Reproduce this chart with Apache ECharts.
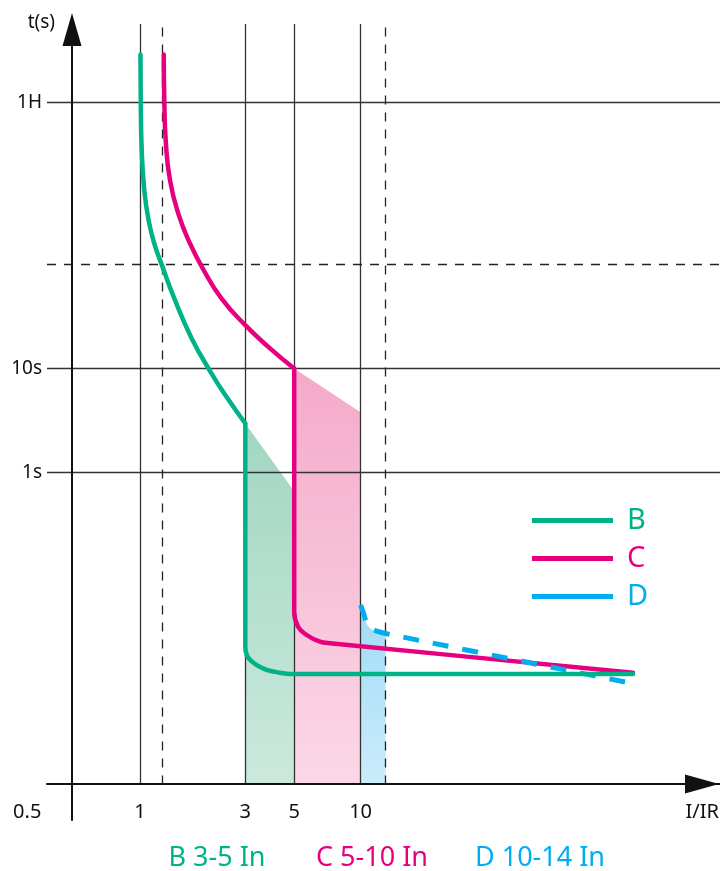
<!DOCTYPE html>
<html>
<head>
<meta charset="utf-8">
<script src="https://cdn.jsdelivr.net/npm/echarts@6/dist/echarts.min.js"></script>
<style>
html,body{margin:0;padding:0;background:#ffffff;}
#chart{width:720px;height:871px;}
</style>
</head>
<body>
<div id="chart"></div>
<script>
// ---- data (current multiple I/IR, time in seconds) ----
const xTicks = [0.5, 1, 3, 5, 10];
const xTickLabels = ['0.5', '1', '3', '5', '10'];
const yTicks = [1, 10, 3600];
const yTickLabels = ['1s', '10s', '1H'];
const xSolidLines = [1, 3, 5, 10];
const xDashedLines = [1.26, 13];
const ySolidLines = [1, 10, 3600];
const yDashedLines = [100];

const curveBThermal = [[1.004, 10470], [1.007, 3680], [1.0175, 1240], [1.045, 518], [1.092, 269], [1.163, 156], [1.256, 98.7], [1.431, 47], [1.71, 19.7], [2.096, 9.15], [2.478, 5.26], [3, 2.96]];
const curveBMagnetic = [[3, 2.96], [3, 0.021], [3.06, 0.0172], [3.23, 0.0151], [3.45, 0.0137], [3.78, 0.0126], [4.3, 0.0119], [4.8, 0.01154], [172, 0.01154]];
const curveCThermal = [[1.28, 10470], [1.2885, 3680], [1.3075, 1540], [1.367, 644], [1.497, 300], [1.692, 156], [1.931, 90.5], [2.343, 47], [3, 26.1], [3.86, 15.8], [5, 10]];
const curveCMagnetic = [[5, 10], [5, 0.0456], [5.21, 0.0329], [5.69, 0.0274], [6.54, 0.0236], [7.27, 0.0228], [172, 0.0119]];
const curveD = [[10, 0.0532], [10.32, 0.0443], [10.87, 0.0329], [12.07, 0.0295], [13, 0.0283], [167, 0.00946]];

const bandB = [[3, 2.96], [5, 0.66]];
const bandC = [[5, 10], [10, 3.8]];
const bandD = curveD.slice(0, 5);

const seriesNames = ['B', 'C', 'D'];
const rangeLabels = ['B 3-5 In', 'C 5-10 In', 'D 10-14 In'];

// ---- styling ----
const FONT = 'Noto Sans';
const GREEN = '#00b288', MAGENTA = '#e6007e', CYAN = '#00aeef';
const xMin = 0.3783, xMax = 426.6, yMin = 0.000456, yMax = 20540, tBase = 0.001;

function nearestLabel(v, ticks, labels) {
  let best = 0, bd = Infinity;
  ticks.forEach((t, i) => {
    const d = Math.abs(Math.log10(v) - Math.log10(t));
    if (d < bd) { bd = d; best = i; }
  });
  return labels[best];
}
function grad(top, bottom) {
  return { type: 'linear', x: 0, y: 0, x2: 0, y2: 1, colorStops: [{ offset: 0, color: top }, { offset: 1, color: bottom }] };
}
const gridLineSolid = { color: '#333', width: 1.3, type: 'solid' };
const gridLineDashed = { color: '#222', width: 1.3, type: [9, 8] };

const chart = echarts.init(document.getElementById('chart'), null, { renderer: 'canvas' });
const option = {
  animation: false,
  backgroundColor: '#ffffff',
  textStyle: { fontFamily: FONT },
  grid: { left: 47, right: 0, top: 24, bottom: 51, containLabel: false, outerBoundsMode: 'none' },
  title: rangeLabels.map((t, i) => ({
    text: t,
    left: [217, 372, 540][i],
    top: 845,
    textAlign: 'center',
    padding: 0,
    textStyle: { color: [GREEN, MAGENTA, CYAN][i], fontSize: 27, fontWeight: 'normal', fontFamily: FONT }
  })),
  legend: {
    data: seriesNames.map((n, i) => ({ name: n, textStyle: { color: [GREEN, MAGENTA, CYAN][i] } })),
    orient: 'vertical',
    left: 532,
    top: 506,
    padding: 0,
    icon: 'rect',
    itemWidth: 81,
    itemHeight: 5,
    itemGap: 9,
    selectedMode: false,
    itemStyle: { borderWidth: 0 },
    textStyle: { fontSize: 29, fontFamily: FONT, padding: [0, 0, 0, 9] }
  },
  xAxis: {
    type: 'log', logBase: 10, min: xMin, max: xMax, offset: -36, z: 20,
    axisLine: { show: true, onZero: false, lineStyle: { color: '#111', width: 2 }, symbol: ['none', 'triangle'], symbolSize: [19, 34], symbolOffset: [0, -18] },
    axisTick: { show: false }, splitLine: { show: false }, minorTick: { show: false }, minorSplitLine: { show: false },
    axisLabel: {
      customValues: xTicks, margin: 18, color: '#111', fontSize: 20, fontFamily: FONT,
      formatter: function (v) {
        const s = nearestLabel(v, xTicks, xTickLabels);
        return s === '0.5' ? '{o|' + s + '}' : s;
      },
      rich: { o: { padding: [0, 93, 0, 0], fontSize: 20, color: '#111', fontFamily: FONT } }
    },
    name: 'I/IR', nameLocation: 'end', nameGap: 0, nameMoveOverlap: false,
    nameTextStyle: { align: 'right', verticalAlign: 'top', padding: [18, 1, 0, 0], fontSize: 20, color: '#111', fontFamily: FONT }
  },
  yAxis: {
    type: 'log', logBase: 10, min: yMin, max: yMax, offset: -25, z: 20,
    axisLine: { show: true, onZero: false, lineStyle: { color: '#111', width: 2 }, symbol: ['none', 'triangle'], symbolSize: [19, 33], symbolOffset: [0, -5.5] },
    axisTick: { show: false }, splitLine: { show: false }, minorTick: { show: false }, minorSplitLine: { show: false },
    axisLabel: {
      customValues: yTicks, margin: 30, color: '#111', fontSize: 19, fontFamily: FONT,
      formatter: function (v) { return nearestLabel(v, yTicks, yTickLabels); }
    },
    name: 't(s)', nameLocation: 'end', nameGap: 1, nameMoveOverlap: false,
    nameTextStyle: { align: 'right', verticalAlign: 'middle', padding: [0, 17, 0, 0], fontSize: 19, color: '#111', fontFamily: FONT }
  },
  series: [
    // trip bands
    { name: 'bandB', type: 'line', data: bandB, symbol: 'none', silent: true, z: 1, lineStyle: { width: 0 },
      areaStyle: { origin: tBase, opacity: 1, color: grad('#a2d6c2', '#cbe9dc') } },
    { name: 'bandC', type: 'line', data: bandC, symbol: 'none', silent: true, z: 1, lineStyle: { width: 0 },
      areaStyle: { origin: tBase, opacity: 1, color: grad('#f4aac9', '#fbd8e7') } },
    { name: 'bandD', type: 'line', data: bandD, symbol: 'none', silent: true, z: 1, smooth: 0.4, lineStyle: { width: 0 },
      areaStyle: { origin: tBase, opacity: 1, color: grad('#a0dbf5', '#cbecfb') } },
    // grid lines
    { name: 'gridSolid', type: 'line', data: [], silent: true, z: 3,
      markLine: { silent: true, symbol: ['none', 'none'], label: { show: false }, lineStyle: gridLineSolid, emphasis: { disabled: true },
        data: xSolidLines.map(v => [{ coord: [v, tBase] }, { coord: [v, yMax] }]).concat(ySolidLines.map(v => ({ yAxis: v }))) } },
    { name: 'gridDashed', type: 'line', data: [], silent: true, z: 3,
      markLine: { silent: true, symbol: ['none', 'none'], label: { show: false }, lineStyle: gridLineDashed, emphasis: { disabled: true },
        data: xDashedLines.map(v => [{ coord: [v, tBase] }, { coord: [v, yMax] }]).concat(yDashedLines.map(v => ({ yAxis: v }))) } },
    // curves
    { name: 'C', type: 'line', data: curveCThermal, symbol: 'none', smooth: 0.5, z: 10, color: MAGENTA,
      lineStyle: { color: MAGENTA, width: 4.5, cap: 'round', join: 'round' } },
    { name: 'C', type: 'line', data: curveCMagnetic, symbol: 'none', smooth: 0.35, z: 10, color: MAGENTA,
      lineStyle: { color: MAGENTA, width: 4.5, cap: 'round', join: 'round' } },
    { name: 'D', type: 'line', data: curveD, symbol: 'none', smooth: 0.4, z: 11, color: CYAN,
      lineStyle: { color: CYAN, width: 5, type: [16, 14] } },
    { name: 'B', type: 'line', data: curveBThermal, symbol: 'none', smooth: 0.5, z: 12, color: GREEN,
      lineStyle: { color: GREEN, width: 4.5, cap: 'round', join: 'round' } },
    { name: 'B', type: 'line', data: curveBMagnetic, symbol: 'none', smooth: 0.35, z: 12, color: GREEN,
      lineStyle: { color: GREEN, width: 4.5, cap: 'round', join: 'round' } }
  ]
};
chart.setOption(option);
</script>
</body>
</html>
